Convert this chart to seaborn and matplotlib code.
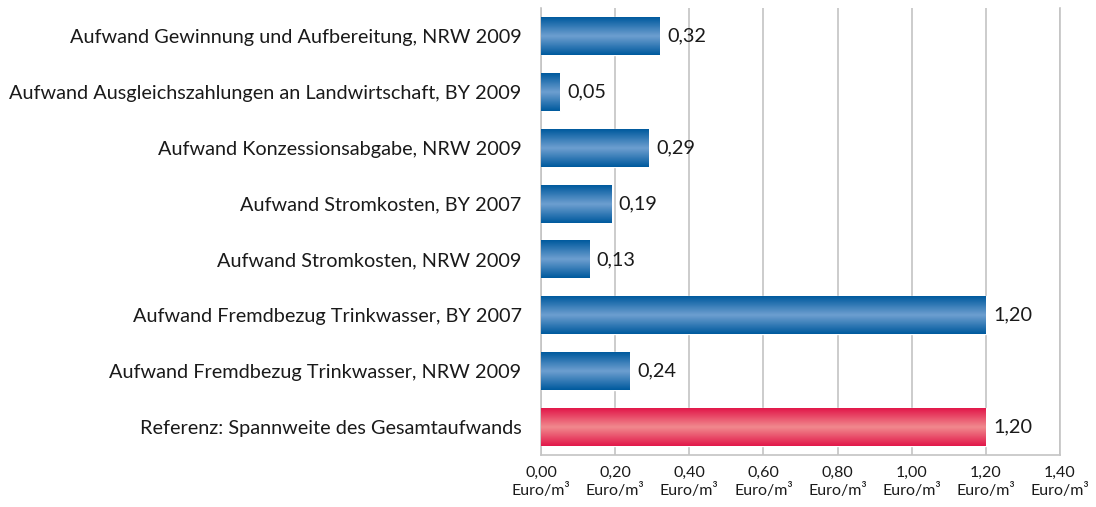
import matplotlib

matplotlib.use("Agg")
import matplotlib.pyplot as plt
from matplotlib.colors import LinearSegmentedColormap
import numpy as np
import pandas as pd
import seaborn as sns

kategorien = [
    "Aufwand Gewinnung und Aufbereitung, NRW 2009",
    "Aufwand Ausgleichszahlungen an Landwirtschaft, BY 2009",
    "Aufwand Konzessionsabgabe, NRW 2009",
    "Aufwand Stromkosten, BY 2007",
    "Aufwand Stromkosten, NRW 2009",
    "Aufwand Fremdbezug Trinkwasser, BY 2007",
    "Aufwand Fremdbezug Trinkwasser, NRW 2009",
    "Referenz: Spannweite des Gesamtaufwands",
]
werte = [0.32, 0.05, 0.29, 0.19, 0.13, 1.20, 0.24, 1.20]
ist_referenz = [False] * 7 + [True]
x_ticks = [0.0, 0.2, 0.4, 0.6, 0.8, 1.0, 1.2, 1.4]

df = pd.DataFrame({"kategorie": kategorien, "wert": werte, "referenz": ist_referenz})

sns.set_style("white")
plt.rcParams["font.family"] = ["Lato", "DejaVu Sans"]

fig = plt.figure(figsize=(10.96, 5.07), dpi=100)
ax = fig.add_axes([0.4936, 0.1026, 0.4735, 0.8816])

sns.barplot(
    data=df, x="wert", y="kategorie", hue="referenz",
    palette={False: "#0a5fa3", True: "#e3224b"},
    width=0.68, legend=False, ax=ax, zorder=2,
)

# Zylinder-Effekt: Farbverlauf in jedem Balken
blau = LinearSegmentedColormap.from_list("b", ["#005a9e", "#6e9fd0", "#005a9e"])
rot = LinearSegmentedColormap.from_list("r", ["#e2184a", "#f18a8e", "#e2184a"])
grad = np.linspace(0, 1, 64).reshape(-1, 1)
for patch in ax.patches:
    x0, y0 = patch.get_x(), patch.get_y()
    w, h = patch.get_width(), patch.get_height()
    if w == 0:
        continue
    cmap = rot if w > 1.1 and y0 > 6 else blau
    im = ax.imshow(grad, cmap=cmap, aspect="auto", extent=[x0, x0 + w, y0 + h, y0],
                   zorder=3, interpolation="bicubic")
    im.set_clip_path(patch)
    ax.text(x0 + w + 0.02, y0 + h / 2, f"{w:.2f}".replace(".", ","),
            va="center", ha="left", fontsize=14.3, color="#1a1a1a")

ax.set_xlim(0, 1.4)
ax.set_ylim(7.5, -0.5)
ax.set_xticks(x_ticks)
ax.set_xticklabels([f"{t:.2f}".replace(".", ",") + "\nEuro/m³" for t in x_ticks],
                   fontsize=11.5, color="#1a1a1a", linespacing=1.25)
ax.tick_params(axis="y", labelsize=14.3, labelcolor="#1a1a1a", length=0, pad=14)
ax.tick_params(axis="x", length=0, pad=8)
ax.set_xlabel("")
ax.set_ylabel("")
ax.grid(axis="x", color="#c4c4c4", linewidth=1.2, zorder=0)
ax.set_axisbelow(True)
for s in ax.spines.values():
    s.set_color("#c4c4c4")
    s.set_linewidth(1.2)
ax.spines["top"].set_visible(False)

fig.savefig("out.png", dpi=100)
